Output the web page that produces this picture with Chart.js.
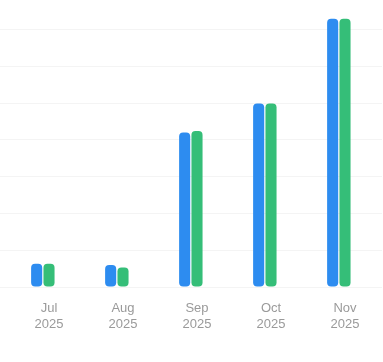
<!DOCTYPE html>
<html>
<head>
<meta charset="utf-8">
<script src="https://cdn.jsdelivr.net/npm/chart.js@4.4.1/dist/chart.umd.min.js"></script>
<style>
  html, body { margin: 0; padding: 0; background: #ffffff; }
  #wrap { position: relative; width: 383px; height: 362px; }
</style>
</head>
<body>
<div id="wrap"><canvas id="c"></canvas></div>
<script>
const months = ['Jul', 'Aug', 'Sep', 'Oct', 'Nov'];
const years = ['2025', '2025', '2025', '2025', '2025'];
const seriesA = [6.3, 6.0, 42.0, 49.9, 72.9];
const seriesB = [6.3, 5.3, 42.4, 49.9, 72.9];
const seriesC = [null, null, null, null, null];
const yStep = 10;
const yMax = 78;

const labels = months.map((m, i) => [m, years[i]]);

new Chart(document.getElementById('c'), {
  type: 'bar',
  data: {
    labels: labels,
    datasets: [
      { label: 'A', data: seriesA, backgroundColor: '#2d8cf0', borderRadius: 4, borderSkipped: false, barPercentage: 0.9, categoryPercentage: 0.5 },
      { label: 'B', data: seriesB, backgroundColor: '#35be78', borderRadius: 4, borderSkipped: false, barPercentage: 0.9, categoryPercentage: 0.5 },
      { label: 'C', data: seriesC, backgroundColor: '#f0a020', borderRadius: 4, barPercentage: 0.9, categoryPercentage: 0.5 }
    ]
  },
  options: {
    responsive: true,
    maintainAspectRatio: false,
    animation: false,
    layout: { padding: { left: 0, right: 1, top: 0, bottom: 17 } },
    plugins: { legend: { display: false }, tooltip: { enabled: false } },
    scales: {
      x: {
        grid: { display: false, drawTicks: false },
        border: { display: false },
        ticks: { color: '#9a9a9a', padding: 13, font: { family: 'Liberation Sans, Arial, sans-serif', size: 13, lineHeight: 1.23 } }
      },
      y: {
        min: 0,
        max: yMax,
        grid: { color: '#f4f4f4', tickLength: 12, drawTicks: true, tickColor: '#f4f4f4' },
        border: { display: false },
        ticks: { display: false, stepSize: yStep },
        afterBuildTicks: (scale) => { scale.ticks = scale.ticks.filter(t => t.value % yStep === 0); }
      }
    }
  }
});
</script>
</body>
</html>
